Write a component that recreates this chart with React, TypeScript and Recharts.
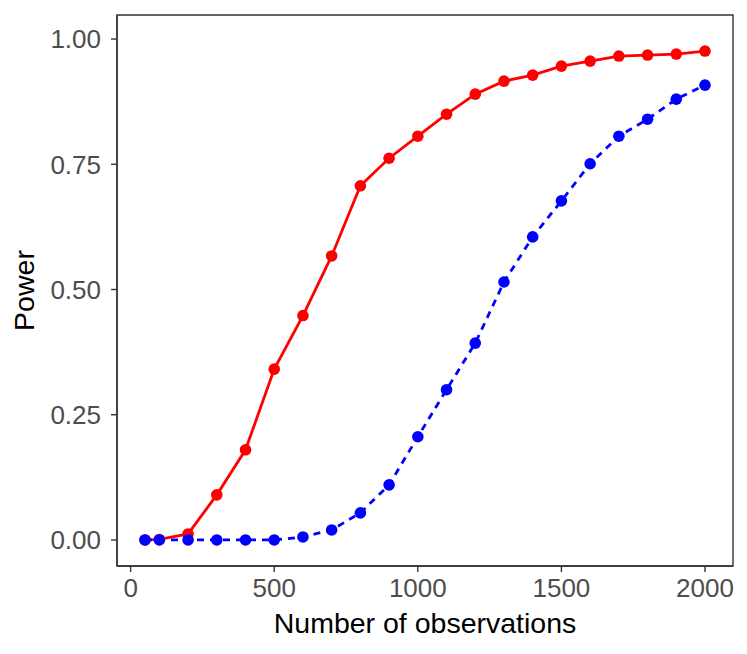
import { Line, LineChart, ReferenceArea, XAxis, YAxis } from "recharts";

const observations = [50, 100, 200, 300, 400, 500, 600, 700, 800, 900, 1000, 1100, 1200, 1300, 1400, 1500, 1600, 1700, 1800, 1900, 2000];
const powerRed = [0, 0.001, 0.012, 0.09, 0.18, 0.341, 0.448, 0.567, 0.707, 0.762, 0.806, 0.85, 0.89, 0.916, 0.928, 0.946, 0.956, 0.966, 0.968, 0.97, 0.976];
const powerBlue = [0, 0, 0, 0, 0, 0, 0.006, 0.02, 0.054, 0.11, 0.206, 0.3, 0.393, 0.515, 0.605, 0.677, 0.751, 0.806, 0.84, 0.88, 0.908];

const xTicks = [0, 500, 1000, 1500, 2000];
const yTicks = [0, 0.25, 0.5, 0.75, 1];

const X_DOMAIN: [number, number] = [-47.5, 2097.5];
const Y_DOMAIN: [number, number] = [-0.052, 1.048];

const data = observations.map((n, i) => ({ n, red: powerRed[i], blue: powerBlue[i] }));

const FONT = "'Liberation Sans', Arial, Helvetica, sans-serif";
const axisGrey = "#333333";
const tickStyle = { fill: "#4d4d4d", fontSize: 26, fontFamily: FONT };

export default function App() {
  return (
    <div style={{ position: "absolute", left: 0, top: 0, background: "#fff" }}>
      <LineChart width={747} height={654} data={data} margin={{ top: 15, right: 14, left: 0, bottom: 0 }}>
        <XAxis
          dataKey="n"
          type="number"
          domain={X_DOMAIN}
          ticks={xTicks}
          allowDataOverflow
          height={88}
          tick={tickStyle}
          tickSize={6}
          tickMargin={7}
          tickLine={{ stroke: axisGrey, strokeWidth: 1.4 }}
          axisLine={{ stroke: axisGrey, strokeWidth: 1.4 }}
          label={{
            content: ({ viewBox }: any) => (
              <text
                x={viewBox.x + viewBox.width / 2}
                y={633}
                textAnchor="middle"
                fill="#000"
                fontSize={28.5}
                fontFamily={FONT}
              >
                Number of observations
              </text>
            ),
          }}
        />
        <YAxis
          type="number"
          domain={Y_DOMAIN}
          ticks={yTicks}
          allowDataOverflow
          width={117}
          tick={tickStyle}
          tickFormatter={(v: number) => v.toFixed(2)}
          tickSize={6}
          tickMargin={10}
          tickLine={{ stroke: axisGrey, strokeWidth: 1.4 }}
          axisLine={{ stroke: axisGrey, strokeWidth: 1.4 }}
          label={{
            content: ({ viewBox }: any) => {
              const cy = viewBox.y + viewBox.height / 2;
              return (
                <text
                  x={34}
                  y={cy}
                  transform={`rotate(-90, 34, ${cy})`}
                  textAnchor="middle"
                  fill="#000"
                  fontSize={28.5}
                  fontFamily={FONT}
                >
                  Power
                </text>
              );
            },
          }}
        />
        <ReferenceArea
          x1={X_DOMAIN[0]}
          x2={X_DOMAIN[1]}
          y1={Y_DOMAIN[0]}
          y2={Y_DOMAIN[1]}
          fill="none"
          stroke={axisGrey}
          strokeWidth={1.4}
          ifOverflow="visible"
        />
        <Line
          dataKey="red"
          stroke="#ff0000"
          strokeWidth={2.8}
          dot={{ r: 5.8, fill: "#ff0000", stroke: "none" }}
          isAnimationActive={false}
        />
        <Line
          dataKey="blue"
          stroke="#0000ff"
          strokeWidth={2.8}
          strokeDasharray="7 6"
          dot={{ r: 5.8, fill: "#0000ff", stroke: "none", strokeDasharray: "0" }}
          isAnimationActive={false}
        />
      </LineChart>
    </div>
  );
}
